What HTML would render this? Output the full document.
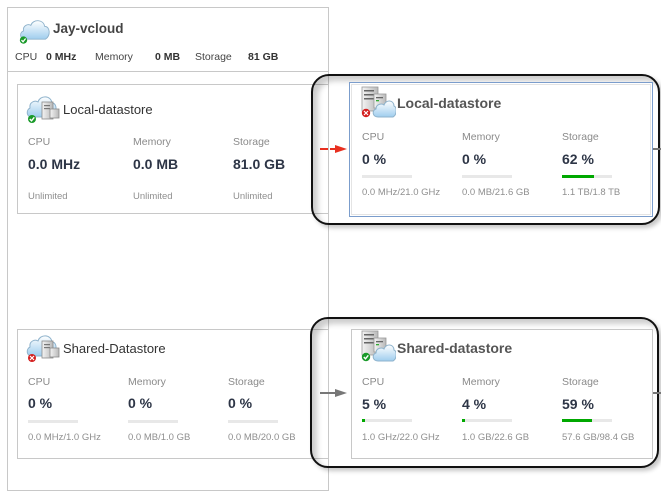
<!DOCTYPE html>
<html><head><meta charset="utf-8">
<style>
html,body{margin:0;padding:0;background:#fff;}
body{width:661px;height:498px;position:relative;overflow:hidden;font-family:"Liberation Sans","DejaVu Sans",sans-serif;}
.a{position:absolute;white-space:nowrap;line-height:1;}
.box{position:absolute;border:1px solid #c8c8c8;box-sizing:border-box;}
.lbl{font-size:10.5px;color:#8a8a8a;}
.val{font-size:14px;font-weight:bold;color:#2d3546;}
.sub{font-size:9.5px;color:#8f8f8f;}
.bar{position:absolute;width:50px;height:3px;background:#e8e8e8;}
.bar i{position:absolute;left:0;top:0;height:3px;background:#00a800;}
.rr{position:absolute;border:2px solid #111;border-radius:18px;box-sizing:border-box;box-shadow:inset 5px 5px 6px rgba(0,0,0,0.2),3px 3px 4px rgba(0,0,0,0.22);}
</style></head><body>
<svg width="0" height="0" style="position:absolute">
<defs>
<linearGradient id="cg" x1="0" y1="0" x2="0" y2="1"><stop offset="0" stop-color="#ffffff"/><stop offset="1" stop-color="#9fcdee"/></linearGradient>
<linearGradient id="sg" x1="0" y1="0" x2="1" y2="0"><stop offset="0" stop-color="#f4f4f4"/><stop offset="1" stop-color="#b8b8b8"/></linearGradient>
</defs>
</svg>

<!-- outer frame -->
<div class="box" style="left:7px;top:7px;width:322px;height:484px;"></div>
<div style="position:absolute;left:7px;top:71px;width:322px;height:1px;background:#c8c8c8;"></div>

<!-- header -->
<svg style="position:absolute;left:18px;top:15px" width="33" height="30" viewBox="0 0 36 32">
<path d="M8 26 C2 26 1 19 6 17 C5 11 11 9 14 11 C16 4 28 4 29 12 C35 12 36 22 30 26 Z" fill="url(#cg)" stroke="#8fb3cc" stroke-width="1"/>
<circle cx="6" cy="27" r="4" fill="#1a9a2a"/>
<path d="M3.8 27 L5.5 28.8 L8.3 25.3" stroke="#fff" stroke-width="1.4" fill="none"/>
</svg>
<div class="a" style="left:53px;top:22px;font-size:13.5px;font-weight:bold;color:#444;">Jay-vcloud</div>
<div class="a" style="left:15px;top:52px;font-size:10.5px;color:#444;">CPU</div>
<div class="a" style="left:46px;top:52px;font-size:10.5px;font-weight:bold;color:#333;">0 MHz</div>
<div class="a" style="left:95px;top:52px;font-size:10.5px;color:#444;">Memory</div>
<div class="a" style="left:155px;top:52px;font-size:10.5px;font-weight:bold;color:#333;">0 MB</div>
<div class="a" style="left:195px;top:52px;font-size:10.5px;color:#444;">Storage</div>
<div class="a" style="left:248px;top:52px;font-size:10.5px;font-weight:bold;color:#333;">81 GB</div>

<!-- left box 1 -->
<div class="box" style="left:17px;top:84px;width:312px;height:130px;"></div>
<svg style="position:absolute;left:25px;top:91px" width="36" height="34" viewBox="0 0 36 34">
<path d="M7 26 C1 26 1 19 5 17 C4 11 10 9 13 11 C15 4 26 4 27 12 C31 12 32 18 30 20 L30 26 Z" fill="url(#cg)" stroke="#8fb3cc" stroke-width="1"/>
<rect x="17" y="11" width="11" height="17" fill="url(#sg)" stroke="#8a8a8a" stroke-width="0.8"/>
<rect x="19" y="14" width="6" height="1.2" fill="#777"/><rect x="19" y="17" width="6" height="1.2" fill="#777"/>
<rect x="25" y="18" width="9" height="9" fill="url(#sg)" stroke="#8a8a8a" stroke-width="0.8"/>
<circle cx="7" cy="28" r="4" fill="#1a9a2a"/>
<path d="M4.8 28 L6.5 29.8 L9.3 26.3" stroke="#fff" stroke-width="1.4" fill="none"/>
</svg>
<div class="a" style="left:63px;top:102.5px;font-size:13px;color:#333;">Local-datastore</div>
<div class="a lbl" style="left:28px;top:137px;">CPU</div>
<div class="a lbl" style="left:133px;top:137px;">Memory</div>
<div class="a lbl" style="left:233px;top:137px;">Storage</div>
<div class="a val" style="left:28px;top:157px;">0.0 MHz</div>
<div class="a val" style="left:133px;top:157px;">0.0 MB</div>
<div class="a val" style="left:233px;top:157px;">81.0 GB</div>
<div class="a sub" style="left:28px;top:192px;">Unlimited</div>
<div class="a sub" style="left:133px;top:192px;">Unlimited</div>
<div class="a sub" style="left:233px;top:192px;">Unlimited</div>

<!-- left box 2 -->
<div class="box" style="left:17px;top:329px;width:312px;height:130px;"></div>
<svg style="position:absolute;left:25px;top:330px" width="36" height="34" viewBox="0 0 36 34">
<path d="M7 26 C1 26 1 19 5 17 C4 11 10 9 13 11 C15 4 26 4 27 12 C31 12 32 18 30 20 L30 26 Z" fill="url(#cg)" stroke="#8fb3cc" stroke-width="1"/>
<rect x="17" y="11" width="11" height="17" fill="url(#sg)" stroke="#8a8a8a" stroke-width="0.8"/>
<rect x="19" y="14" width="6" height="1.2" fill="#777"/><rect x="19" y="17" width="6" height="1.2" fill="#777"/>
<rect x="25" y="18" width="9" height="9" fill="url(#sg)" stroke="#8a8a8a" stroke-width="0.8"/>
<circle cx="7" cy="28" r="4" fill="#d42020"/>
<path d="M5 26 L9 30 M9 26 L5 30" stroke="#fff" stroke-width="1.2"/>
</svg>
<div class="a" style="left:63px;top:341.5px;font-size:13px;color:#333;">Shared-Datastore</div>
<div class="a lbl" style="left:28px;top:377px;">CPU</div>
<div class="a lbl" style="left:128px;top:377px;">Memory</div>
<div class="a lbl" style="left:228px;top:377px;">Storage</div>
<div class="a val" style="left:28px;top:396px;">0 %</div>
<div class="a val" style="left:128px;top:396px;">0 %</div>
<div class="a val" style="left:228px;top:396px;">0 %</div>
<div class="bar" style="left:28px;top:420px;"></div>
<div class="bar" style="left:128px;top:420px;"></div>
<div class="bar" style="left:228px;top:420px;"></div>
<div class="a sub" style="left:28px;top:433px;">0.0 MHz/1.0 GHz</div>
<div class="a sub" style="left:128px;top:433px;">0.0 MB/1.0 GB</div>
<div class="a sub" style="left:228px;top:433px;">0.0 MB/20.0 GB</div>

<!-- right box 1 -->
<div class="rr" style="left:311px;top:74px;width:349px;height:151px;"></div>
<div style="position:absolute;left:349px;top:82px;width:304px;height:135px;border:1px solid #7b9dcc;box-sizing:border-box;background:#fff;"></div>
<div style="position:absolute;left:351px;top:84px;width:300px;height:131px;border:1px solid #e4e4e4;box-sizing:border-box;"></div>
<svg style="position:absolute;left:360px;top:85px" width="36" height="34" viewBox="0 0 36 34">
<rect x="2" y="2" width="16" height="24" fill="url(#sg)" stroke="#999" stroke-width="0.8"/>
<rect x="4" y="5" width="10" height="1.5" fill="#666"/><rect x="4" y="9" width="10" height="1.5" fill="#666"/><rect x="4" y="13" width="10" height="1.5" fill="#666"/>
<rect x="14" y="9" width="12" height="14" fill="url(#sg)" stroke="#999" stroke-width="0.8"/>
<rect x="16" y="12" width="7" height="1.3" fill="#666"/><rect x="16" y="15" width="3" height="1.3" fill="#3a3"/>
<path d="M18 32 C12 32 12 25 16 24 C16 19 22 18 24 20 C26 14 34 15 34 21 C37 22 37 30 33 32 Z" fill="url(#cg)" stroke="#8fb3cc" stroke-width="1"/>
<circle cx="6" cy="28" r="4.2" fill="#d42020"/>
<path d="M4 26 L8 30 M8 26 L4 30" stroke="#fff" stroke-width="1.2"/>
</svg>
<div class="a" style="left:397px;top:96px;font-size:14px;font-weight:bold;color:#555;">Local-datastore</div>
<div class="a lbl" style="left:362px;top:132px;">CPU</div>
<div class="a lbl" style="left:462px;top:132px;">Memory</div>
<div class="a lbl" style="left:562px;top:132px;">Storage</div>
<div class="a val" style="left:362px;top:152px;">0 %</div>
<div class="a val" style="left:462px;top:152px;">0 %</div>
<div class="a val" style="left:562px;top:152px;">62 %</div>
<div class="bar" style="left:362px;top:175px;"></div>
<div class="bar" style="left:462px;top:175px;"></div>
<div class="bar" style="left:562px;top:175px;"><i style="width:32px"></i></div>
<div class="a sub" style="left:362px;top:188px;">0.0 MHz/21.0 GHz</div>
<div class="a sub" style="left:462px;top:188px;">0.0 MB/21.6 GB</div>
<div class="a sub" style="left:562px;top:188px;">1.1 TB/1.8 TB</div>
<div style="position:absolute;left:653px;top:148px;width:8px;height:2px;background:#777;"></div>

<!-- right box 2 -->
<div class="rr" style="left:310px;top:317px;width:349px;height:151px;"></div>
<div style="position:absolute;left:351px;top:329px;width:302px;height:130px;border:1px solid #c8c8c8;box-sizing:border-box;background:#fff;"></div>
<svg style="position:absolute;left:360px;top:329px" width="36" height="34" viewBox="0 0 36 34">
<rect x="2" y="2" width="16" height="24" fill="url(#sg)" stroke="#999" stroke-width="0.8"/>
<rect x="4" y="5" width="10" height="1.5" fill="#666"/><rect x="4" y="9" width="10" height="1.5" fill="#666"/><rect x="4" y="13" width="10" height="1.5" fill="#666"/>
<rect x="14" y="9" width="12" height="14" fill="url(#sg)" stroke="#999" stroke-width="0.8"/>
<rect x="16" y="12" width="7" height="1.3" fill="#666"/><rect x="16" y="15" width="3" height="1.3" fill="#3a3"/>
<path d="M18 32 C12 32 12 25 16 24 C16 19 22 18 24 20 C26 14 34 15 34 21 C37 22 37 30 33 32 Z" fill="url(#cg)" stroke="#8fb3cc" stroke-width="1"/>
<circle cx="6" cy="28" r="4.2" fill="#1a9a2a"/>
<path d="M3.8 28 L5.5 29.8 L8.3 26.3" stroke="#fff" stroke-width="1.4" fill="none"/>
</svg>
<div class="a" style="left:397px;top:341px;font-size:14px;font-weight:bold;color:#555;">Shared-datastore</div>
<div class="a lbl" style="left:362px;top:377px;">CPU</div>
<div class="a lbl" style="left:462px;top:377px;">Memory</div>
<div class="a lbl" style="left:562px;top:377px;">Storage</div>
<div class="a val" style="left:362px;top:397px;">5 %</div>
<div class="a val" style="left:462px;top:397px;">4 %</div>
<div class="a val" style="left:562px;top:397px;">59 %</div>
<div class="bar" style="left:362px;top:419px;"><i style="width:3px"></i></div>
<div class="bar" style="left:462px;top:419px;"><i style="width:3px"></i></div>
<div class="bar" style="left:562px;top:419px;"><i style="width:30px"></i></div>
<div class="a sub" style="left:362px;top:433px;">1.0 GHz/22.0 GHz</div>
<div class="a sub" style="left:462px;top:433px;">1.0 GB/22.6 GB</div>
<div class="a sub" style="left:562px;top:433px;">57.6 GB/98.4 GB</div>
<div style="position:absolute;left:653px;top:392px;width:8px;height:2px;background:#777;"></div>

<!-- arrows -->
<svg style="position:absolute;left:318px;top:142px" width="32" height="14" viewBox="0 0 32 14">
<line x1="2" y1="7" x2="10" y2="7" stroke="#e83020" stroke-width="2"/>
<line x1="12" y1="7" x2="18" y2="7" stroke="#e83020" stroke-width="2"/>
<polygon points="17,3 29,7 17,11" fill="#e83020"/>
</svg>
<svg style="position:absolute;left:318px;top:386px" width="32" height="14" viewBox="0 0 32 14">
<line x1="2" y1="7" x2="18" y2="7" stroke="#777" stroke-width="2"/>
<polygon points="17,3 29,7 17,11" fill="#777"/>
</svg>
</body></html>
